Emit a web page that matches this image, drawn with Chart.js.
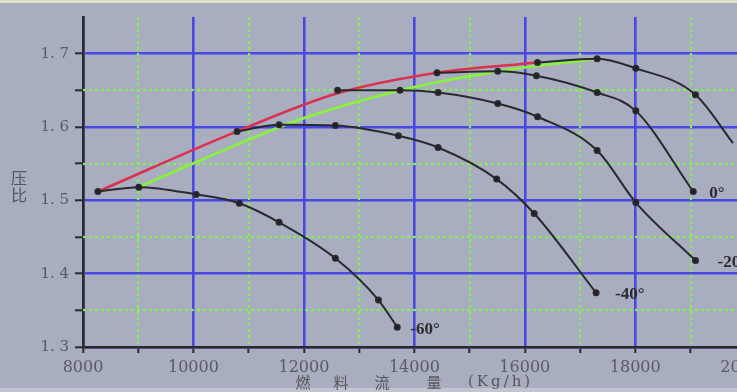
<!DOCTYPE html>
<html>
<head>
<meta charset="utf-8">
<script src="https://cdn.jsdelivr.net/npm/chart.js@4.4.1/dist/chart.umd.min.js"></script>
<style>
html, body { margin: 0; padding: 0; overflow: hidden; background: #a8aec0; }
#wrap { position: relative; width: 790px; height: 392px; }
</style>
</head>
<body>
<div id="wrap"><canvas id="mycanvas" width="790" height="392"></canvas></div>
<script>
// axis ticks / labels
var xTickValues = [8000, 9000, 10000, 11000, 12000, 13000, 14000, 15000, 16000, 17000, 18000, 19000, 20000];
var xLabels = ['8000', '10000', '12000', '14000', '16000', '18000', '20000'];
var yTickValues = [1.3, 1.35, 1.4, 1.45, 1.5, 1.55, 1.6, 1.65, 1.7];
var yLabels = ['1.3', '1.4', '1.5', '1.6', '1.7'];

// red envelope
var flowRed = [8270, 10790, 12610, 14410, 16230];
var prRed   = [1.512, 1.594, 1.646, 1.674, 1.688];
// green envelope
var flowGreen = [9010, 11010, 12000, 13740, 15510, 17310];
var prGreen   = [1.518, 1.583, 1.612, 1.650, 1.676, 1.693];

// black curves
var flowTop = [16230, 17310, 18010, 19090, 19770];
var prTop   = [1.688, 1.693, 1.680, 1.644, 1.578];
var flow0 = [14410, 15510, 16210, 17310, 18010, 19050];
var pr0   = [1.674, 1.676, 1.670, 1.647, 1.622, 1.512];
var flow20 = [12610, 13740, 14430, 15510, 16230, 17310, 18010, 19090];
var pr20   = [1.650, 1.650, 1.647, 1.632, 1.614, 1.568, 1.497, 1.418];
var flow40 = [10790, 11550, 12570, 13710, 14430, 15490, 16170, 17290];
var pr40   = [1.594, 1.603, 1.602, 1.588, 1.572, 1.529, 1.482, 1.374];
var flow60 = [8270, 9010, 10050, 10830, 11550, 12570, 13350, 13690];
var pr60   = [1.512, 1.518, 1.508, 1.496, 1.470, 1.421, 1.364, 1.327];

var curveNames = ['', '0°', '-20°', '-40°', '-60°'];

function pts(xs, ys) {
    var out = [];
    for (var i = 0; i < xs.length; i++) out.push({x: xs[i], y: ys[i]});
    return out;
}

var BLUE = '#4848e4';
var GREEN = '#86ec5c';

function blackSet(label, xs, ys, dx, openEnd) {
    return {
        label: label,
        data: pts(xs, ys),
        borderColor: '#2a2a2e',
        backgroundColor: '#1e1e22',
        borderWidth: 2,
        // a curve running off the right edge has no end marker
        pointRadius: function (c) {
            return (openEnd && c.dataIndex === xs.length - 1) ? 0 : 2.5;
        },
        pointHoverRadius: 2.5,
        cubicInterpolationMode: 'monotone',
        order: 1,
        labelDx: dx
    };
}

var chartdata = {
    datasets: [
        blackSet(curveNames[0], flowTop, prTop, 0, true),
        blackSet(curveNames[1], flow0, pr0, 16),
        blackSet(curveNames[2], flow20, pr20, 22),
        blackSet(curveNames[3], flow40, pr40, 19),
        blackSet(curveNames[4], flow60, pr60, 13),
        {
            label: 'red',
            data: pts(flowRed, prRed),
            borderColor: '#dc3050',
            borderWidth: 2.6,
            pointRadius: 0,
            cubicInterpolationMode: 'monotone',
            order: 2
        },
        {
            label: 'green',
            data: pts(flowGreen, prGreen),
            borderColor: '#8cf040',
            borderWidth: 2.8,
            pointRadius: 0,
            cubicInterpolationMode: 'monotone',
            order: 2
        }
    ]
};

function near(a, b) { return Math.abs(a - b) < 1e-6; }

// background, dotted green grid, texts
var decor = {
    id: 'decor',
    beforeDraw: function (chart) {
        var c = chart.ctx;
        c.save();
        c.fillStyle = '#a8aec0';
        c.fillRect(0, 0, chart.width, chart.height);
        c.fillStyle = '#e2e1c8';
        c.fillRect(0, 0, chart.width, 3);
        c.fillStyle = '#c2c5cf';
        c.fillRect(0, 388, chart.width, 4);
        c.restore();
    },
    beforeDatasetsDraw: function (chart) {
        var c = chart.ctx, a = chart.chartArea;
        var xs = chart.scales.x, ys = chart.scales.y;
        c.save();
        c.strokeStyle = GREEN;
        c.lineWidth = 2.2;
        c.setLineDash([3, 3]);
        xTickValues.forEach(function (v) {
            if (v % 2000 === 0) return;
            var px = Math.round(xs.getPixelForValue(v));
            if (px > a.right) return;
            c.beginPath(); c.moveTo(px, a.top); c.lineTo(px, a.bottom); c.stroke();
        });
        yTickValues.forEach(function (v) {
            if (yLabels.some(function (l) { return near(parseFloat(l), v); })) return;
            var py = Math.round(ys.getPixelForValue(v));
            c.beginPath(); c.moveTo(a.left, py); c.lineTo(a.right, py); c.stroke();
        });
        c.restore();
    },
    afterDraw: function (chart) {
        var c = chart.ctx;
        var xs = chart.scales.x, ys = chart.scales.y;
        c.save();
        // curve names at the end of each curve
        c.fillStyle = '#2c2c30';
        c.font = 'bold 17px "Liberation Serif"';
        c.textBaseline = 'middle';
        c.textAlign = 'left';
        chart.data.datasets.forEach(function (ds) {
            if (!ds.labelDx) return;
            var last = ds.data[ds.data.length - 1];
            c.fillText(ds.label, xs.getPixelForValue(last.x) + ds.labelDx, ys.getPixelForValue(last.y) + 2);
        });
        // y title
        c.fillStyle = '#55555c';
        c.font = '16px "Noto Sans CJK SC"';
        c.textAlign = 'center';
        c.fillText('压', 19, 178);
        c.fillText('比', 19, 195);
        // x title
        var tchars = ['燃', '料', '流', '量'];
        var tx = [303, 341, 382, 434];
        c.font = '15px "Noto Sans CJK SC"';
        for (var i = 0; i < tchars.length; i++) c.fillText(tchars[i], tx[i], 382);
        c.textAlign = 'left';
        c.font = '15px "DejaVu Serif"';
        c.letterSpacing = '3px';
        c.fillText('(Kg/h)', 468, 382);
        c.restore();
    }
};

var ctx = document.getElementById('mycanvas');
var lineGraph = new Chart(ctx, {
    type: 'line',
    data: chartdata,
    plugins: [decor],
    options: {
        responsive: false,
        animation: false,
        devicePixelRatio: 1,
        layout: { padding: { top: 17, left: 0, right: 0, bottom: 0 } },
        plugins: { legend: { display: false }, tooltip: { enabled: false } },
        scales: {
            x: {
                type: 'linear',
                min: 8000,
                max: 20720,
                afterBuildTicks: function (s) {
                    s.ticks = xTickValues.map(function (v) { return {value: v}; });
                },
                afterFit: function (s) { s.height = 45; },
                grid: {
                    color: function (c) {
                        return (c.tick && c.tick.value % 2000 === 0) ? BLUE : 'rgba(0,0,0,0)';
                    },
                    lineWidth: 2.6,
                    tickColor: '#2a2a2e',
                    tickLength: 6,
                    tickWidth: 2
                },
                border: { color: '#2a2a2e', width: 2.6 },
                ticks: {
                    autoSkip: false,
                    maxRotation: 0,
                    padding: 5,
                    color: '#5a5a62',
                    font: { family: 'DejaVu Serif', size: 16 },
                    callback: function (v) {
                        return xLabels.indexOf(String(v)) >= 0 ? String(v) : '';
                    }
                }
            },
            y: {
                type: 'linear',
                min: 1.3,
                max: 1.75,
                afterBuildTicks: function (s) {
                    s.ticks = yTickValues.map(function (v) { return {value: v}; });
                },
                afterFit: function (s) { s.width = 83; },
                grid: {
                    color: function (c) {
                        if (!c.tick) return 'rgba(0,0,0,0)';
                        var major = yLabels.some(function (l) { return near(parseFloat(l), c.tick.value); });
                        return major ? BLUE : 'rgba(0,0,0,0)';
                    },
                    lineWidth: 2.6,
                    tickColor: '#2a2a2e',
                    tickLength: 8,
                    tickWidth: 2
                },
                border: { color: '#2a2a2e', width: 2.6 },
                ticks: {
                    autoSkip: false,
                    padding: 6,
                    color: '#5a5a62',
                    font: { family: 'DejaVu Serif', size: 15 },
                    callback: function (v) {
                        var l = yLabels.find(function (s) { return near(parseFloat(s), v); });
                        return l ? l.replace('.', '. ') : '';
                    }
                }
            }
        }
    }
});
</script>
</body>
</html>
